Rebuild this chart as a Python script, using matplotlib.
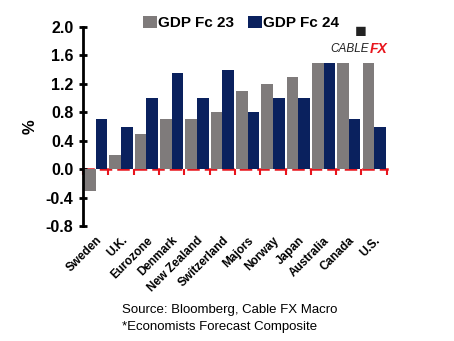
import numpy as np
import matplotlib
matplotlib.use("Agg")
import matplotlib.pyplot as plt

# data
countries = ["Sweden", "U.K.", "Eurozone", "Denmark", "New Zealand", "Switzerland",
             "Majors", "Norway", "Japan", "Australia", "Canada", "U.S."]
gdp_23 = [-0.3, 0.2, 0.5, 0.7, 0.7, 0.8, 1.1, 1.2, 1.3, 1.5, 1.5, 1.5]
gdp_24 = [0.7, 0.6, 1.0, 1.35, 1.0, 1.4, 0.8, 1.0, 1.0, 1.5, 0.7, 0.6]
yticks = [-0.8, -0.4, 0.0, 0.4, 0.8, 1.2, 1.6, 2.0]

plt.rcParams['font.family'] = ['Liberation Sans', 'DejaVu Sans']

fig = plt.figure(figsize=(4.54, 3.41), dpi=100)
ax = fig.add_axes([0.183, 0.337, 0.669, 0.584])

x = np.arange(len(countries))
w = 0.46
ax.bar(x - w/2, gdp_23, w, color="#7f7b7b", label="GDP Fc 23", zorder=2)
ax.bar(x + w/2, gdp_24, w, color="#0a215e", label="GDP Fc 24", zorder=2)

ax.set_xlim(-0.5, len(countries) - 0.5)
ax.set_ylim(-0.8, 2.0)
ax.set_yticks(yticks)
ax.set_yticklabels([f"{v:.1f}" for v in yticks], fontsize=11.5, fontweight="bold")
ax.tick_params(axis="y", direction="inout", length=6, width=2, pad=4)
ax.spines["left"].set_linewidth(2)
for s in ["top", "right", "bottom"]:
    ax.spines[s].set_visible(False)

ax.set_xticks(x)
ax.set_xticklabels(countries, rotation=45, ha="right", rotation_mode="anchor",
                   fontsize=8.5, fontweight="bold")
ax.tick_params(axis="x", length=0, pad=6)
ax.set_ylabel("%", fontsize=12, fontweight="bold", labelpad=6)

# red dashed zero axis with boundary ticks
sec = ax.secondary_xaxis(0.8 / 2.8)
sec.spines["bottom"].set_color("#e8141c")
sec.spines["bottom"].set_linestyle((0, (4, 3)))
sec.spines["bottom"].set_linewidth(1.8)
sec.spines["bottom"].set_zorder(5)
sec.set_xticks(np.arange(len(countries) + 1) - 0.5)
sec.tick_params(axis="x", colors="#e8141c", length=4, width=1.5, labelbottom=False)

ax.legend(loc="center", bbox_to_anchor=(0.52, 1.02), ncol=2, frameon=False,
          prop={"size": 11, "weight": "bold"}, handlelength=0.9, handleheight=0.9,
          handletextpad=0.1, columnspacing=0.9, borderaxespad=0)

# logo
fig.text(0.795, 0.905, "\u25A0", fontsize=14, color="#222222", ha="center", va="center")
fig.text(0.77, 0.855, "CABLE", fontsize=8.5, style="italic", color="#222222",
         ha="center", va="center")
fig.text(0.835, 0.855, "FX", fontsize=10, style="italic", fontweight="bold",
         color="#e8141c", ha="center", va="center")

fig.text(0.268, 0.082, "Source: Bloomberg, Cable FX Macro", fontsize=9.5)
fig.text(0.268, 0.032, "*Economists Forecast Composite", fontsize=9.5)

fig.savefig("out.png", dpi=100)
